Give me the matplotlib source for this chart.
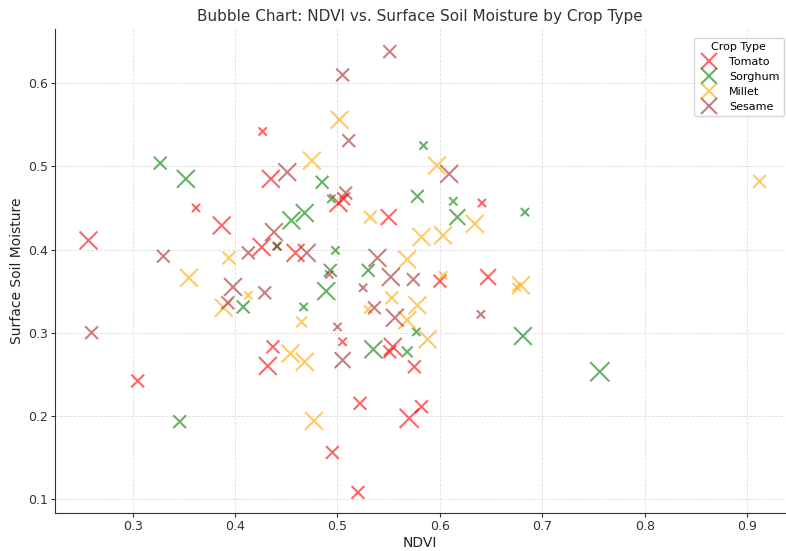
import matplotlib
matplotlib.use("Agg")
import matplotlib.pyplot as plt
from matplotlib.lines import Line2D

# size classes (marker area, pt^2)
L, M, S = 165, 85, 35

crops = ["Tomato", "Sorghum", "Millet", "Sesame"]
colors = ["red", "green", "orange", "brown"]

tomato_ndvi = [0.257, 0.305, 0.362, 0.387, 0.427, 0.435, 0.426, 0.459, 0.437, 0.432,
               0.501, 0.506, 0.550, 0.641, 0.647, 0.600, 0.505, 0.522, 0.495, 0.520,
               0.570, 0.582, 0.575, 0.554, 0.551]
tomato_ssm = [0.411, 0.242, 0.450, 0.429, 0.542, 0.485, 0.403, 0.396, 0.283, 0.260,
              0.456, 0.461, 0.439, 0.456, 0.367, 0.362, 0.289, 0.215, 0.156, 0.108,
              0.197, 0.211, 0.259, 0.283, 0.277]
tomato_size = [L, M, S, L, S, L, L, L, M, L,
               L, M, 130, S, 130, M, S, M, M, M,
               190, M, M, L, M]

sorghum_ndvi = [0.327, 0.352, 0.346, 0.408, 0.441, 0.455, 0.468, 0.485, 0.494, 0.498,
                0.493, 0.489, 0.467, 0.530, 0.578, 0.584, 0.613, 0.617, 0.683, 0.681,
                0.756, 0.535, 0.568, 0.577]
sorghum_ssm = [0.504, 0.485, 0.193, 0.331, 0.404, 0.435, 0.444, 0.481, 0.461, 0.399,
               0.375, 0.350, 0.331, 0.375, 0.464, 0.525, 0.458, 0.439, 0.445, 0.296,
               0.253, 0.280, 0.277, 0.301]
sorghum_size = [M, L, M, M, S, L, L, M, S, S,
                M, L, S, M, M, S, S, 130, S, L,
                190, L, 60, S]

millet_ndvi = [0.355, 0.394, 0.389, 0.413, 0.465, 0.454, 0.468, 0.477, 0.475, 0.502,
               0.532, 0.582, 0.603, 0.568, 0.597, 0.634, 0.603, 0.553, 0.578, 0.530,
               0.568, 0.588, 0.679, 0.675, 0.912]
millet_ssm = [0.366, 0.390, 0.330, 0.345, 0.313, 0.275, 0.265, 0.194, 0.507, 0.556,
              0.439, 0.415, 0.417, 0.388, 0.501, 0.431, 0.369, 0.342, 0.333, 0.328,
              0.315, 0.292, 0.357, 0.355, 0.482]
millet_size = [L, M, L, S, 60, L, L, L, L, L,
               M, L, L, L, L, L, S, M, L, S,
               L, L, L, S, M]

sesame_ndvi = [0.260, 0.330, 0.398, 0.393, 0.429, 0.413, 0.438, 0.451, 0.470, 0.441,
               0.505, 0.551, 0.511, 0.508, 0.609, 0.539, 0.552, 0.574, 0.525, 0.536,
               0.556, 0.500, 0.505, 0.640, 0.492]
sesame_ssm = [0.300, 0.392, 0.355, 0.336, 0.348, 0.396, 0.421, 0.493, 0.396, 0.404,
              0.610, 0.638, 0.531, 0.468, 0.491, 0.390, 0.367, 0.364, 0.354, 0.330,
              0.318, 0.307, 0.267, 0.322, 0.370]
sesame_size = [M, M, L, M, M, M, L, L, L, S,
               M, M, M, M, L, L, L, M, S, M,
               L, S, 130, S, S]

data = [(tomato_ndvi, tomato_ssm, tomato_size),
        (sorghum_ndvi, sorghum_ssm, sorghum_size),
        (millet_ndvi, millet_ssm, millet_size),
        (sesame_ndvi, sesame_ssm, sesame_size)]

fig = plt.figure(figsize=(7.86, 5.51), dpi=100)
ax = fig.add_axes([0.070, 0.069, 0.929, 0.878])

for (xs, ys, ss), name, c in zip(data, crops, colors):
    ax.scatter(xs, ys, s=ss, c=c, marker="x", alpha=0.6, linewidths=1.5, label=name)

ax.set_xlim(0.2243, 0.937)
ax.set_ylim(0.0832, 0.665)
ax.set_xticks([0.3, 0.4, 0.5, 0.6, 0.7, 0.8, 0.9])
ax.set_yticks([0.1, 0.2, 0.3, 0.4, 0.5, 0.6])
ax.tick_params(labelsize=9, colors="#333333", length=3, pad=2)
ax.grid(True, linestyle="--", linewidth=0.6, color="#dddddd")
ax.set_axisbelow(True)
for side in ["top", "right"]:
    ax.spines[side].set_visible(False)
for side in ["left", "bottom"]:
    ax.spines[side].set_color("#333333")

ax.set_xlabel("NDVI", fontsize=10, color="#222222", labelpad=2)
ax.set_ylabel("Surface Soil Moisture", fontsize=10, color="#222222", labelpad=3)
ax.set_title("Bubble Chart: NDVI vs. Surface Soil Moisture by Crop Type",
             fontsize=11, color="#333333")

handles = [Line2D([], [], marker="x", linestyle="none", color=c, alpha=0.6,
                  markersize=11, markeredgewidth=1.5) for c in colors]
leg = ax.legend(handles, crops, title="Crop Type", loc="upper right",
                fontsize=8, title_fontsize=8, frameon=True, labelspacing=0.45,
                bbox_to_anchor=(1.0, 0.985), borderaxespad=0.1)
leg.get_frame().set_edgecolor("#cccccc")

fig.savefig("out.png", dpi=100)
